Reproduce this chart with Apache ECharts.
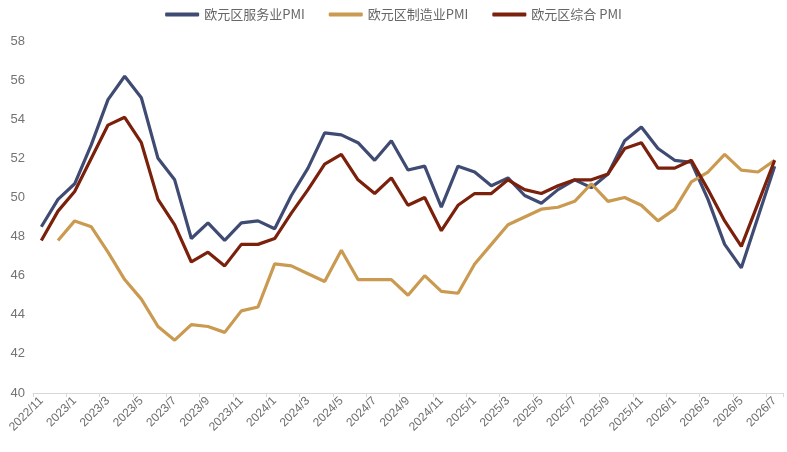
<!DOCTYPE html>
<html>
<head>
<meta charset="utf-8">
<script src="https://cdn.jsdelivr.net/npm/echarts@6/dist/echarts.min.js"></script>
<style>
html, body { margin: 0; padding: 0; background: #fff; }
#chartDiv { width: 787px; height: 452px; }
</style>
</head>
<body>
<div id="chartDiv"></div>
<script>
// 月份
var months = [
	"2022/11", "2022/12",
	"2023/1", "2023/2", "2023/3", "2023/4", "2023/5", "2023/6", "2023/7", "2023/8", "2023/9", "2023/10", "2023/11", "2023/12",
	"2024/1", "2024/2", "2024/3", "2024/4", "2024/5", "2024/6", "2024/7", "2024/8", "2024/9", "2024/10", "2024/11", "2024/12",
	"2025/1", "2025/2", "2025/3", "2025/4", "2025/5", "2025/6", "2025/7", "2025/8", "2025/9", "2025/10", "2025/11", "2025/12",
	"2026/1", "2026/2", "2026/3", "2026/4", "2026/5", "2026/6", "2026/7"
];

// 欧元区服务业PMI
var servicesPmi = [
	48.5, 49.9, 50.7, 52.7, 55.0, 56.2, 55.1, 52.0, 50.9, 47.9, 48.7, 47.8, 48.7, 48.8,
	48.4, 50.1, 51.5, 53.3, 53.2, 52.8, 51.9, 52.9, 51.4, 51.6, 49.5, 51.6,
	51.3, 50.6, 51.0, 50.1, 49.7, 50.4, 50.9, 50.5, 51.2, 52.9, 53.6, 52.5,
	51.9, 51.8, 49.9, 47.6, 46.4, 49.0, 51.6
];

// 欧元区制造业PMI（2022/11 无数据）
var manufPmi = [
	null, 47.8,
	48.8, 48.5, 47.2, 45.8, 44.8, 43.4, 42.7, 43.5, 43.4, 43.1, 44.2, 44.4,
	46.6, 46.5, 46.1, 45.7, 47.3, 45.8, 45.8, 45.8, 45.0, 46.0, 45.2, 45.1,
	46.6, 47.6, 48.6, 49.0, 49.4, 49.5, 49.8, 50.7, 49.8, 50.0, 49.6, 48.8,
	49.4, 50.8, 51.3, 52.2, 51.4, 51.3, 51.9
];

// 欧元区综合 PMI
var compositePmi = [
	47.8, 49.3, 50.3, 52.0, 53.7, 54.1, 52.8, 49.9, 48.6, 46.7, 47.2, 46.5, 47.6, 47.6,
	47.9, 49.2, 50.4, 51.7, 52.2, 50.9, 50.2, 51.0, 49.6, 50.0, 48.3, 49.6,
	50.2, 50.2, 50.9, 50.4, 50.2, 50.6, 50.9, 50.9, 51.2, 52.5, 52.8, 51.5,
	51.5, 51.9, 50.4, 48.8, 47.5, 49.7, 51.9
];

var yTicks = [40, 58, 2]; // min, max, interval

var chart = echarts.init(document.getElementById('chartDiv'));

var option = {
	animation : false,
	backgroundColor : "#ffffff",
	textStyle : {
		fontFamily : "Noto Sans CJK SC, Liberation Sans, sans-serif"
	},
	legend : {
		top : 3,
		left : "center",
		itemWidth : 34,
		itemHeight : 4,
		itemGap : 24,
		icon : "roundRect",
		textStyle : {
			color : "#666666",
			fontSize : 13
		},
		data : ["欧元区服务业PMI", "欧元区制造业PMI", "欧元区综合 PMI"]
	},
	grid : {
		left : 33,
		right : 4,
		top : 41,
		bottom : 59
	},
	xAxis : {
		type : "category",
		boundaryGap : true,
		data : months,
		axisLine : {
			lineStyle : { color : "#d9d9d9", width : 1 }
		},
		axisTick : {
			show : true,
			length : 4,
			lineStyle : { color : "#d9d9d9" }
		},
		axisLabel : {
			interval : 1,
			rotate : 45,
			color : "#6e6e6e",
			fontSize : 12,
			margin : 6,
			fontFamily : "Liberation Sans, Arial, sans-serif"
		},
		splitLine : { show : false }
	},
	yAxis : {
		type : "value",
		min : yTicks[0],
		max : yTicks[1],
		interval : yTicks[2],
		axisLine : { show : false },
		axisTick : { show : false },
		splitLine : { show : false },
		axisLabel : {
			color : "#737373",
			fontSize : 13,
			margin : 8,
			fontFamily : "Liberation Sans, Arial, sans-serif"
		}
	},
	series : [ {
		name : "欧元区服务业PMI",
		type : "line",
		data : servicesPmi,
		symbol : "none",
		lineStyle : { color : "#3f4b72", width : 3.2 },
		itemStyle : { color : "#3f4b72" }
	}, {
		name : "欧元区制造业PMI",
		type : "line",
		data : manufPmi,
		symbol : "none",
		lineStyle : { color : "#c99a50", width : 3.2 },
		itemStyle : { color : "#c99a50" }
	}, {
		name : "欧元区综合 PMI",
		type : "line",
		data : compositePmi,
		symbol : "none",
		lineStyle : { color : "#7a200b", width : 3.2 },
		itemStyle : { color : "#7a200b" }
	} ]
};

chart.setOption(option);
</script>
</body>
</html>
